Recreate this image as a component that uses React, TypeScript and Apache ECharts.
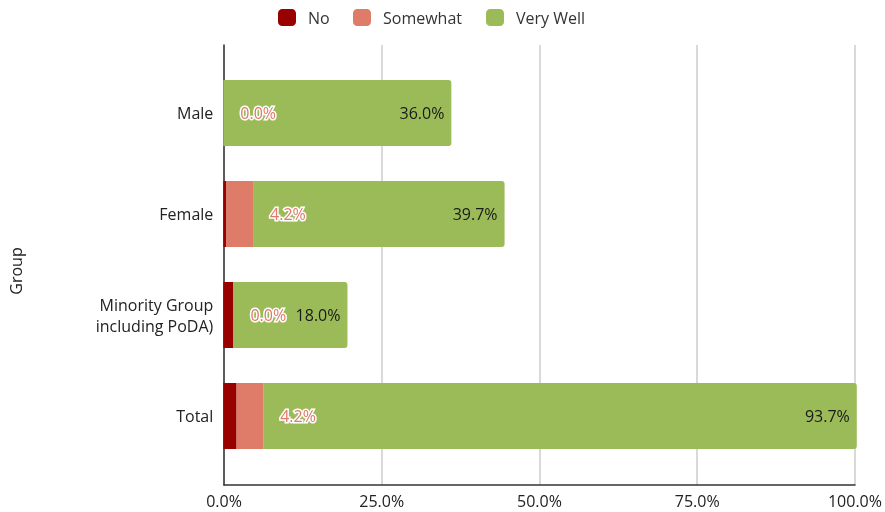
import React, { useEffect, useRef } from "react";
import * as echarts from "echarts";

const categories = ["Male", "Female", "Minority Group\nincluding PoDA)", "Total"];
const seriesNames = ["No", "Somewhat", "Very Well"];
const noValues = [0.0, 0.5, 1.6, 2.1];
const somewhatValues = [0.0, 4.2, 0.0, 4.2];
const veryWellValues = [36.0, 39.7, 18.0, 93.7];
const xTicks = [0, 25, 50, 75, 100];
const colors = ["#990000", "#DE7B69", "#9BBB59"];

const FONT = "'Open Sans', 'Liberation Sans', sans-serif";
const fmt = (v: number) => v.toFixed(1) + "%";

export default function App() {
  const ref = useRef<HTMLDivElement>(null);
  useEffect(() => {
    if (!ref.current) return;
    const chart = echarts.init(ref.current, null, { renderer: "svg" });
    const left = 223.3;
    const right = 885 - 856.8;
    const legendLefts = [278, 353, 486];
    chart.setOption({
      animation: false,
      textStyle: { fontFamily: FONT },
      legend: seriesNames.map((n, i) => ({
        data: [n],
        left: legendLefts[i],
        top: 9,
        itemWidth: 18,
        itemHeight: 17,
        icon: "roundRect",
        padding: 0,
        textStyle: { fontSize: 16, color: "#333", fontFamily: FONT, padding: [0, 0, 0, 7] },
      })),
      grid: [
        { left, right, top: 45, bottom: 27 },
        { left, right, top: 62.5, height: 404 },
      ],
      xAxis: [
        {
          gridIndex: 0,
          type: "value",
          min: 0,
          max: 100,
          interval: 25,
          axisLine: { show: true, lineStyle: { color: "#333", width: 1.5 } },
          axisTick: { show: false },
          splitLine: { show: true, lineStyle: { color: "#cccccc", width: 1.5 } },
          axisLabel: {
            color: "#222",
            fontSize: 16,
            margin: 8,
            fontFamily: FONT,
            formatter: (v: number) => (xTicks.includes(v) ? fmt(v) : ""),
          },
        },
        {
          gridIndex: 1,
          type: "value",
          min: 0,
          max: 100,
          show: false,
        },
      ],
      yAxis: [
        {
          gridIndex: 0,
          type: "category",
          data: categories,
          inverse: true,
          axisLine: { show: true, lineStyle: { color: "#333", width: 1.5 } },
          axisTick: { show: false },
          axisLabel: { show: false },
          name: "Group",
          nameLocation: "middle",
          nameGap: 200,
          nameTextStyle: { fontSize: 16, color: "#222", fontFamily: FONT, padding: [0, 12, 0, 0] },
        },
        {
          gridIndex: 1,
          type: "category",
          data: categories,
          inverse: true,
          axisLine: { show: false },
          axisTick: { show: false },
          axisLabel: {
            color: "#222",
            fontSize: 16,
            margin: 10,
            lineHeight: 21,
            fontFamily: FONT,
          },
        },
      ],
      series: [
        {
          name: "No",
          type: "bar",
          stack: "s",
          xAxisIndex: 1,
          yAxisIndex: 1,
          barWidth: 66,
          data: noValues,
          itemStyle: { color: colors[0] },
          label: { show: false },
        },
        {
          name: "Somewhat",
          type: "bar",
          stack: "s",
          xAxisIndex: 1,
          yAxisIndex: 1,
          barWidth: 66,
          data: somewhatValues,
          itemStyle: { color: colors[1] },
          label: {
            show: true,
            position: "right",
            distance: 17,
            color: colors[1],
            fontSize: 16,
            fontFamily: FONT,
            textBorderColor: "#ffffff",
            textBorderWidth: 3,
            formatter: (p: any) => fmt(p.value),
          },
          z: 3,
        },
        {
          name: "Very Well",
          type: "bar",
          stack: "s",
          xAxisIndex: 1,
          yAxisIndex: 1,
          barWidth: 66,
          data: veryWellValues,
          itemStyle: { color: colors[2], borderRadius: [0, 3, 3, 0] },
          label: {
            show: true,
            position: "insideRight",
            distance: 7,
            color: "#1a1a1a",
            fontSize: 16,
            fontFamily: FONT,
            formatter: (p: any) => fmt(p.value),
          },
          z: 2,
        },
      ],
    });
    return () => chart.dispose();
  }, []);
  return (
    <div
      ref={ref}
      style={{ position: "fixed", left: 0, top: 0, width: 885, height: 512 }}
    />
  );
}
